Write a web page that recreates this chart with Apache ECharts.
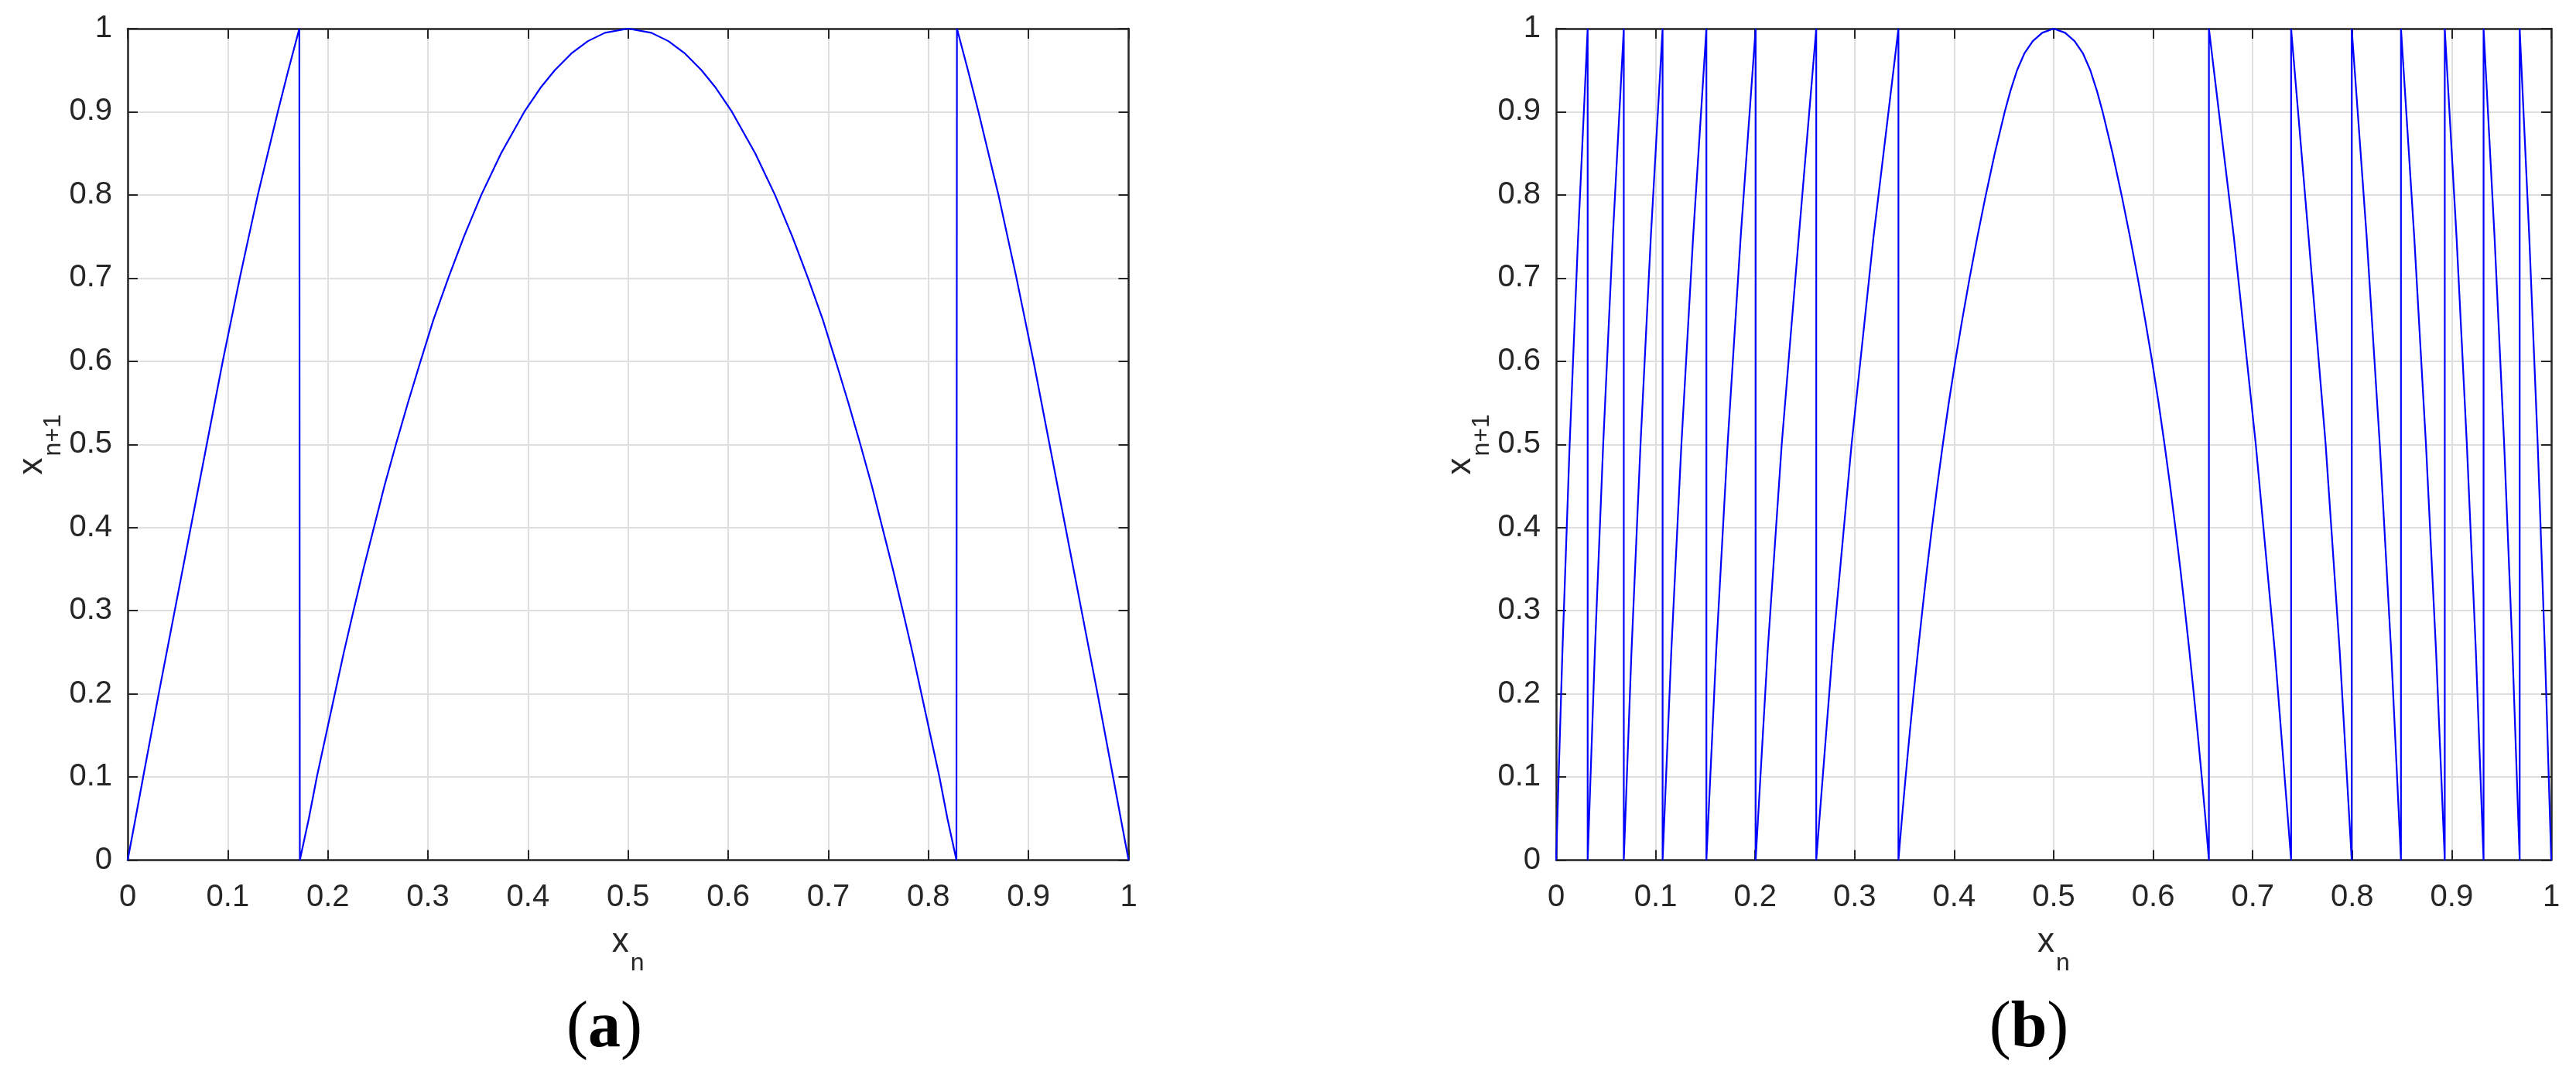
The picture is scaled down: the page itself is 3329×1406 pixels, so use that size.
<!DOCTYPE html>
<html>
<head>
<meta charset="utf-8">
<script src="https://cdn.jsdelivr.net/npm/echarts@6/dist/echarts.min.js"></script>
<style>
html,body{margin:0;padding:0;background:#fff;}
#chart{width:3329px;height:1406px;}
</style>
</head>
<body>
<div id="chart"></div>
<script>
// Tick labels shared by both axes of both panels
const tickLabels = ['0','0.1','0.2','0.3','0.4','0.5','0.6','0.7','0.8','0.9','1'];

// ---- Panel (a): x_n / x_{n+1} values ----
const aRampUpX = [0,0.0078,0.0155,0.031,0.047,0.063,0.079,0.095,0.112,0.121,0.13,0.14,0.15,0.1605,0.1715];
const aRampUpY = [0,0.05,0.1,0.2,0.3,0.4,0.5,0.6,0.7,0.75,0.8,0.85,0.9,0.95,1];
const aArchX = [0.172,0.181,0.189,0.198,0.207,0.216,0.2256,0.2355,0.246,0.2565,0.268,0.28,0.2926,0.3055,0.3203,0.336,0.3533,0.373,0.3963,0.4132,0.4267,0.4432,0.4598,0.4768,0.5,
  0.5232,0.5402,0.5568,0.5733,0.5868,0.6037,0.627,0.6467,0.664,0.6797,0.6945,0.7074,0.72,0.732,0.7435,0.754,0.7645,0.7744,0.784,0.793,0.802,0.811,0.819,0.828];
const aArchY = [0,0.05,0.1,0.15,0.2,0.25,0.3,0.35,0.4,0.45,0.5,0.55,0.6,0.65,0.7,0.75,0.8,0.85,0.9,0.93,0.95,0.97,0.985,0.995,1,
  0.995,0.985,0.97,0.95,0.93,0.9,0.85,0.8,0.75,0.7,0.65,0.6,0.55,0.5,0.45,0.4,0.35,0.3,0.25,0.2,0.15,0.1,0.05,0];
const aRampDownX = [0.8285,0.8395,0.85,0.86,0.87,0.879,0.888,0.905,0.921,0.937,0.953,0.969,0.9845,0.9922,1];
const aRampDownY = [1,0.95,0.9,0.85,0.8,0.75,0.7,0.6,0.5,0.4,0.3,0.2,0.1,0.05,0];

// ---- Panel (b): x_n / x_{n+1} values ----
const bTeethUpX = [0,0.0063,0.0136,0.0221,0.0317,0.0317,
  0.0389,0.0473,0.0570,0.068,0.068,
  0.0757,0.0848,0.0952,0.107,0.107,
  0.1157,0.1259,0.1377,0.151,0.151,
  0.1608,0.1723,0.1855,0.2005,0.2005,
  0.2125,0.2267,0.2439,0.2614,0.2614,
  0.2777,0.2969,0.319,0.344];
const bTeethUpY = [0,0.25,0.5,0.75,1,0,
  0.25,0.5,0.75,1,0,
  0.25,0.5,0.75,1,0,
  0.25,0.5,0.75,1,0,
  0.25,0.5,0.75,1,0,
  0.25,0.5,0.75,1,0,
  0.25,0.5,0.75,1];
const bArchX = [0.344,0.3475,0.3512,0.3551,0.3592,0.3635,0.368,0.3727,0.3777,0.383,0.3886,0.3946,0.4011,0.4081,0.4155,0.4234,0.4318,0.4408,0.4508,0.4565,0.4632,0.4705,0.479,0.4885,0.5,
  0.5115,0.521,0.5295,0.5368,0.5435,0.5492,0.5592,0.5682,0.5766,0.5845,0.5919,0.5989,0.6054,0.6114,0.617,0.6223,0.6273,0.632,0.6365,0.6408,0.6449,0.6488,0.6525,0.656];
const bArchY = [0,0.05,0.1,0.15,0.2,0.25,0.3,0.35,0.4,0.45,0.5,0.55,0.6,0.65,0.7,0.75,0.8,0.85,0.9,0.925,0.95,0.97,0.985,0.995,1,
  0.995,0.985,0.97,0.95,0.925,0.9,0.85,0.8,0.75,0.7,0.65,0.6,0.55,0.5,0.45,0.4,0.35,0.3,0.25,0.2,0.15,0.1,0.05,0];
const bTeethDownX = [0.656,
  0.681,0.7031,0.7223,0.7386,0.7386,
  0.7561,0.7733,0.7875,0.7995,0.7995,
  0.8145,0.8277,0.8392,0.849,0.849,
  0.8623,0.8741,0.8843,0.893,0.893,
  0.9048,0.9152,0.9243,0.932,0.932,
  0.943,0.9527,0.9611,0.9683,0.9683,
  0.9779,0.9864,0.9937,1];
const bTeethDownY = [1,
  0.75,0.5,0.25,0,1,
  0.75,0.5,0.25,0,1,
  0.75,0.5,0.25,0,1,
  0.75,0.5,0.25,0,1,
  0.75,0.5,0.25,0,1,
  0.75,0.5,0.25,0,1,
  0.75,0.5,0.25,0];

const panelLabels = ['a','b'];

const AX = '#262626';
const FONT = 'Liberation Sans';
const zip = (xs, ys) => xs.map((x, i) => [x, ys[i]]);
const fmt = v => tickLabels[Math.round(v * 10)];

const aData = zip(aRampUpX.concat(aArchX, aRampDownX), aRampUpY.concat(aArchY, aRampDownY));
const bData = zip(bTeethUpX.concat(bArchX, bTeethDownX), bTeethUpY.concat(bArchY, bTeethDownY));

const nameRich = {
  x: {fontSize: 44, lineHeight: 50, verticalAlign: 'top', fontFamily: FONT, color: AX},
  s: {fontSize: 32, lineHeight: 32, verticalAlign: 'top', fontFamily: FONT, color: AX, padding: [34, 0, 0, 2]}
};

function axes(gi) {
  const common = {
    type: 'value', min: 0, max: 1, interval: 0.1, gridIndex: gi,
    axisLine: {show: true, onZero: false, lineStyle: {color: AX, width: 2.5}},
    axisTick: {show: true, inside: true, length: 13, lineStyle: {color: AX, width: 2}}
  };
  const xs = [
    Object.assign({}, common, {
      position: 'bottom',
      axisLabel: {show: true, formatter: fmt, fontSize: 40, fontFamily: FONT, color: AX, margin: 28},
      splitLine: {show: true, lineStyle: {color: '#dfdfdf', width: 2}},
      name: '{x|x}{s|n}', nameLocation: 'middle', nameGap: 84,
      nameTextStyle: {rich: nameRich}
    }),
    Object.assign({}, common, {
      position: 'top', axisLabel: {show: false}, splitLine: {show: false}
    })
  ];
  const ys = [
    Object.assign({}, common, {
      position: 'left',
      axisLabel: {show: true, formatter: fmt, fontSize: 40, fontFamily: FONT, color: AX, margin: 20},
      splitLine: {show: true, lineStyle: {color: '#dfdfdf', width: 2}},
      name: '{x|x}{s|n+1}', nameLocation: 'middle', nameGap: 92, nameRotate: 90,
      nameTextStyle: {rich: nameRich}
    }),
    Object.assign({}, common, {
      position: 'right', axisLabel: {show: false}, splitLine: {show: false}
    })
  ];
  return {xs, ys};
}

const A0 = axes(0), A1 = axes(1);

const option = {
  backgroundColor: '#ffffff',
  animation: false,
  grid: [
    {left: 165, top: 37, width: 1293.5, height: 1074.5, show: false},
    {left: 2011, top: 37, width: 1286, height: 1074.5, show: false}
  ],
  xAxis: [A0.xs[0], A0.xs[1], A1.xs[0], A1.xs[1]],
  yAxis: [A0.ys[0], A0.ys[1], A1.ys[0], A1.ys[1]],
  series: [
    {type: 'line', xAxisIndex: 0, yAxisIndex: 0, data: aData, showSymbol: false,
     lineStyle: {color: '#0000ff', width: 2.2}, z: 3},
    {type: 'line', xAxisIndex: 2, yAxisIndex: 2, data: bData, showSymbol: false,
     lineStyle: {color: '#0000ff', width: 2.2}, z: 3}
  ],
  graphic: panelLabels.map((l, i) => ({
    type: 'text',
    x: i === 0 ? 781 : 2622,
    y: 1330,
    style: {
      text: '{p|(}{b|' + l + '}{p|)}',
      align: 'center', verticalAlign: 'middle',
      rich: {
        p: {fontSize: 84, fontFamily: 'Liberation Serif', color: '#000'},
        b: {fontSize: 84, fontFamily: 'Liberation Serif', fontWeight: 'bold', color: '#000'}
      }
    }
  }))
};

const chart = echarts.init(document.getElementById('chart'), null, {renderer: 'canvas'});
chart.setOption(option);
</script>
</body>
</html>
